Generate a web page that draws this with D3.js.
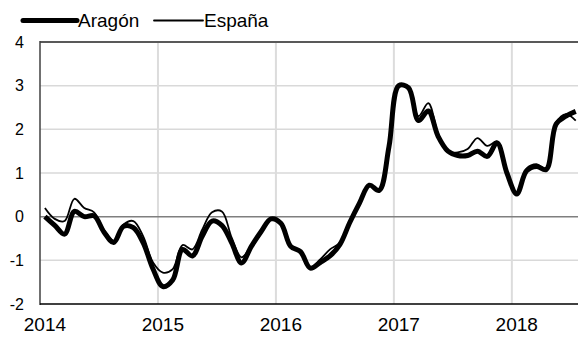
<!DOCTYPE html>
<html>
<head>
<meta charset="utf-8">
<script src="https://cdn.jsdelivr.net/npm/d3@7"></script>
<style>
  html, body { margin: 0; padding: 0; background: #fff; }
  svg { display: block; font-family: "Liberation Sans", Arial, sans-serif; }
</style>
</head>
<body>
<svg id="chart" width="578" height="338"></svg>
<script>
// Monthly periods, Jan 2014 – Jul 2018
const months = [
  "2014-01","2014-02","2014-03","2014-04","2014-05","2014-06","2014-07","2014-08","2014-09","2014-10","2014-11","2014-12",
  "2015-01","2015-02","2015-03","2015-04","2015-05","2015-06","2015-07","2015-08","2015-09","2015-10","2015-11","2015-12",
  "2016-01","2016-02","2016-03","2016-04","2016-05","2016-06","2016-07","2016-08","2016-09","2016-10","2016-11","2016-12",
  "2017-01","2017-02","2017-03","2017-04","2017-05","2017-06","2017-07","2017-08","2017-09","2017-10","2017-11","2017-12",
  "2018-01","2018-02","2018-03","2018-04","2018-05","2018-06","2018-07"
];

const aragon = [
  0.0, -0.2, -0.4, 0.12, 0.0, 0.02, -0.35, -0.59, -0.22, -0.25, -0.6, -1.2,
  -1.6, -1.45, -0.75, -0.9, -0.45, -0.1, -0.2, -0.6, -1.06, -0.68, -0.34, -0.05,
  -0.15, -0.68, -0.8, -1.18, -1.05, -0.9, -0.64, -0.14, 0.31, 0.72, 0.6, 1.6,
  3.0, 2.95, 2.2, 2.42, 1.84, 1.5, 1.4, 1.4, 1.5, 1.38, 1.69, 1.0,
  0.52, 1.05, 1.15, 1.08, 2.12, 2.3, 2.41
];

const espana = [
  0.2, -0.05, -0.1, 0.41, 0.2, 0.1, -0.3, -0.55, -0.18, -0.1, -0.45, -1.05,
  -1.28, -1.2, -0.65, -0.75, -0.3, 0.1, 0.12, -0.48, -0.93, -0.65, -0.32, -0.03,
  -0.15, -0.68, -0.8, -1.15, -0.98, -0.75, -0.6, -0.14, 0.31, 0.72, 0.6, 1.6,
  3.02, 2.95, 2.3, 2.6, 1.9, 1.5, 1.47, 1.55, 1.8, 1.62, 1.72, 1.0,
  0.55, 1.1, 1.2, 1.1, 2.15, 2.35, 2.2
];

const yTicks = [-2, -1, 0, 1, 2, 3, 4];
const yearLabels = ["2014", "2015", "2016", "2017", "2018"];
const seriesNames = ["Aragón", "España"];

const svg = d3.select("#chart");
const plotLeft = 40, plotRight = 578, plotTop = 42, plotBottom = 304;
const monthStep = 9.83;

// Each month occupies one slot; the point sits in its middle
const x = d3.scalePoint()
  .domain(months)
  .range([plotLeft + monthStep * 0.5, plotLeft + monthStep * (months.length - 0.5)]);
const step = x.step();

const y = d3.scaleLinear().domain([-2, 4]).range([plotBottom, plotTop]);

const g = svg.append("g");

// Horizontal gridlines
g.selectAll("line.hgrid")
  .data(yTicks.filter(d => d !== -2 && d !== 0 && d !== 4))
  .enter().append("line")
  .attr("x1", plotLeft).attr("x2", plotRight)
  .attr("y1", d => y(d)).attr("y2", d => y(d))
  .attr("stroke", "#d9d9d9").attr("stroke-width", 1.5);

// Vertical gridlines at year boundaries
const yearStarts = months.filter(m => m.endsWith("-01") && m !== "2014-01");
g.selectAll("line.vgrid")
  .data(yearStarts)
  .enter().append("line")
  .attr("x1", d => x(d) - step / 2).attr("x2", d => x(d) - step / 2)
  .attr("y1", plotTop).attr("y2", plotBottom)
  .attr("stroke", "#dcdcdc").attr("stroke-width", 2);

// Zero line
g.append("line")
  .attr("x1", plotLeft).attr("x2", plotRight)
  .attr("y1", y(0)).attr("y2", y(0))
  .attr("stroke", "#7f7f7f").attr("stroke-width", 1.5);

// Top frame
g.append("line")
  .attr("x1", plotLeft).attr("x2", plotRight)
  .attr("y1", y(4)).attr("y2", y(4))
  .attr("stroke", "#595959").attr("stroke-width", 2);

// Series lines
const line = d3.line()
  .x((d, i) => x(months[i]))
  .y(d => y(d))
  .curve(d3.curveCatmullRom.alpha(0.5));

g.append("path")
  .datum(aragon)
  .attr("d", line)
  .attr("fill", "none")
  .attr("stroke", "#000")
  .attr("stroke-width", 5)
  .attr("stroke-linejoin", "round");

g.append("path")
  .datum(espana)
  .attr("d", line)
  .attr("fill", "none")
  .attr("stroke", "#000")
  .attr("stroke-width", 1.8)
  .attr("stroke-linejoin", "round");

// Axis lines
g.append("line")
  .attr("x1", plotLeft).attr("x2", plotLeft)
  .attr("y1", plotTop - 1).attr("y2", plotBottom + 1)
  .attr("stroke", "#404040").attr("stroke-width", 1.5);
g.append("line")
  .attr("x1", plotLeft).attr("x2", plotRight)
  .attr("y1", plotBottom).attr("y2", plotBottom)
  .attr("stroke", "#000").attr("stroke-width", 1.5);

// Y tick labels
g.selectAll("text.ylab")
  .data(yTicks)
  .enter().append("text")
  .attr("x", 24)
  .attr("y", d => y(d))
  .attr("dy", "0.36em")
  .attr("text-anchor", "end")
  .attr("font-size", 16)
  .attr("fill", "#000")
  .text(d => d);

// X tick labels centred on January of each year
g.selectAll("text.xlab")
  .data(yearLabels)
  .enter().append("text")
  .attr("x", d => x(d + "-01"))
  .attr("y", 331)
  .attr("text-anchor", "middle")
  .attr("font-size", 19)
  .attr("fill", "#000")
  .text(d => d);

// Legend
const legend = svg.append("g");
const legendItems = [
  { name: seriesNames[0], x1: 23, x2: 77, w: 5 },
  { name: seriesNames[1], x1: 154, x2: 203, w: 1.8 }
];
legendItems.forEach(it => {
  legend.append("line")
    .attr("x1", it.x1).attr("x2", it.x2)
    .attr("y1", 20.5).attr("y2", 20.5)
    .attr("stroke", "#000").attr("stroke-width", it.w)
    .attr("stroke-linecap", "round");
  legend.append("text")
    .attr("x", it.x2 + 1).attr("y", 27)
    .attr("font-size", 19)
    .attr("fill", "#000")
    .text(it.name);
});
</script>
</body>
</html>
